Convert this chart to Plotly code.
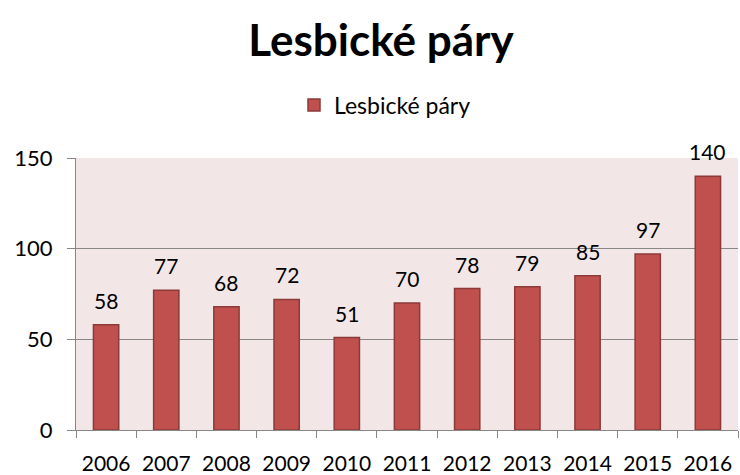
import plotly.graph_objects as go

years = ["2006", "2007", "2008", "2009", "2010", "2011", "2012", "2013", "2014", "2015", "2016"]
values = [58, 77, 68, 72, 51, 70, 78, 79, 85, 97, 140]
series_name = "Lesbické páry"
title_text = "Lesbické páry"
y_ticks = [0, 50, 100, 150]

FONT = "Lato"

fig = go.Figure()
fig.add_trace(go.Bar(
    x=years, y=values, name=series_name,
    marker=dict(color="#C0504D", line=dict(color="#8C3A38", width=1.5)),
    showlegend=True,
))

for i, v in enumerate(values):
    fig.add_annotation(x=i, y=v, xref="x", yref="y", text=str(v), showarrow=False,
                       yanchor="bottom", yshift=10,
                       font=dict(family=FONT, size=21, color="#000000"))

fig.update_layout(
    width=740, height=475,
    margin=dict(l=76, r=2, t=158, b=45, autoexpand=False),
    paper_bgcolor="white",
    plot_bgcolor="#F2E6E6",
    bargap=0.58,
    title=dict(text="<b>" + title_text + "</b>", x=381/740, xref="container",
               xanchor="center", y=1 - 41/475, yref="container", yanchor="middle",
               font=dict(family=FONT, size=44, color="#000000")),
    legend=dict(orientation="h", x=385/740, xref="container", xanchor="center",
                y=1 - 105/475, yref="container", yanchor="middle",
                font=dict(family=FONT, size=23, color="#000000"),
                itemwidth=30, bgcolor="rgba(0,0,0,0)"),
    font=dict(family=FONT, color="#000000"),
)

fig.update_xaxes(
    type="category", range=[-0.5, len(years) - 0.5], automargin=False,
    showgrid=False, showline=True, linecolor="#878787", linewidth=1,
    ticks="outside", tickson="boundaries", ticklen=7, tickcolor="#878787",
    tickangle=0,
    tickfont=dict(family=FONT, size=21, color="#000000"),
    ticklabelstandoff=15,
)
fig.update_yaxes(
    range=[0, 150], tickvals=y_ticks, automargin=False,
    showgrid=True, gridcolor="#878787", gridwidth=1,
    showline=True, linecolor="#878787", linewidth=1, zeroline=False,
    ticks="outside", ticklen=8, tickcolor="#878787",
    tickfont=dict(family=FONT, size=22, color="#000000"),
    ticklabelstandoff=10,
)

fig.write_html("out.html", config={"displayModeBar": False},
               post_script="document.body.style.margin='0';")
